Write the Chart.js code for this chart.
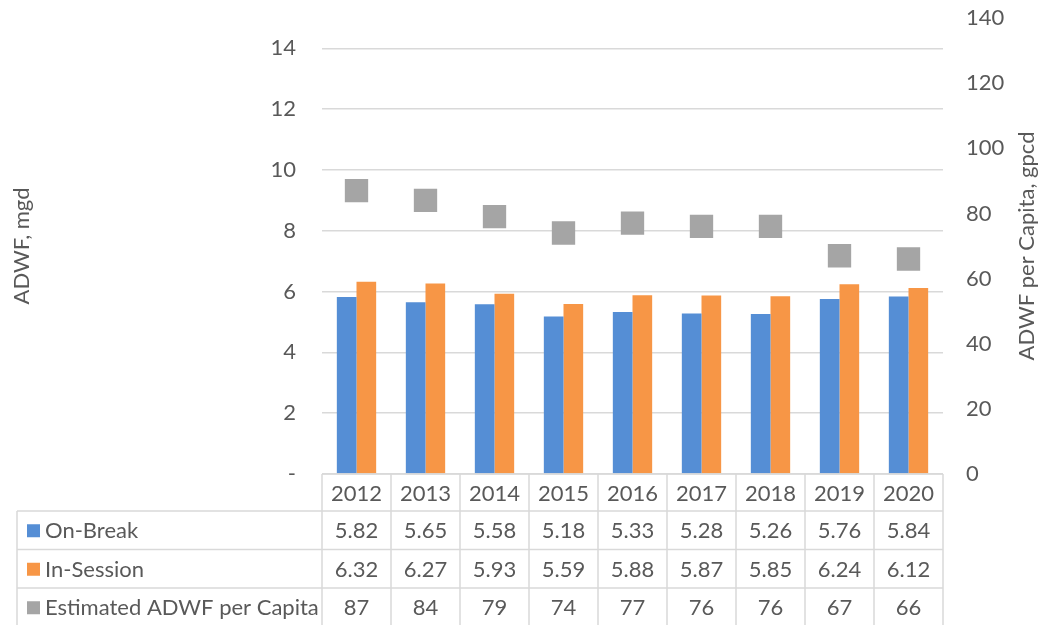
<!DOCTYPE html>
<html><head><meta charset="utf-8">
<script src="https://cdn.jsdelivr.net/npm/chart.js@4/dist/chart.umd.min.js"></script>
<style>html,body{margin:0;padding:0;background:#fff}</style>
</head><body>
<canvas id="c" width="1048" height="625"></canvas>
<script>
const categories = ['2012','2013','2014','2015','2016','2017','2018','2019','2020'];
const onBreak = [5.82,5.65,5.58,5.18,5.33,5.28,5.26,5.76,5.84];
const inSession = [6.32,6.27,5.93,5.59,5.88,5.87,5.85,6.24,6.12];
const perCapita = [87,84,79,74,77,76,76,67,66];
const leftTicks = [0,2,4,6,8,10,12,14];
const rightTicks = [0,20,40,60,80,100,120,140];
const seriesNames = ['On-Break','In-Session','Estimated ADWF per Capita'];
const rightTitle = 'ADWF per Capita, gpcd';

const FONT = 'Lato';
const FS = 22;
const TXT = '#595959';
const GRID = '#d9d9d9';
const colors = ['#558ED5','#F79646','#A5A5A5'];

const tablePlugin = {
  id: 'dataTable',
  afterDraw(chart) {
    const ctx = chart.ctx, x = chart.scales.x, ca = chart.chartArea;
    const n = categories.length;
    const w = (ca.right - ca.left) / n;
    const top = ca.bottom;
    const headerH = 37, rowH = 38.5;
    const legendLeft = 17;
    const rowsTop = top + headerH;
    const bottom = rowsTop + rowH * 3;
    const rowsData = [onBreak.map(v => v.toFixed(2)), inSession.map(v => v.toFixed(2)), perCapita.map(String)];
    ctx.save();
    ctx.strokeStyle = GRID;
    ctx.lineWidth = 1.5;
    ctx.beginPath();
    ctx.moveTo(ca.left, top); ctx.lineTo(ca.right, top);
    for (let r = 0; r <= 3; r++) {
      const y = rowsTop + r * rowH;
      ctx.moveTo(legendLeft, y); ctx.lineTo(ca.right, y);
    }
    ctx.moveTo(legendLeft, rowsTop); ctx.lineTo(legendLeft, bottom);
    for (let i = 0; i <= n; i++) {
      const cx = (i < n ? x.getPixelForValue(i) - w / 2 : x.getPixelForValue(n - 1) + w / 2);
      ctx.moveTo(cx, top); ctx.lineTo(cx, bottom);
    }
    ctx.stroke();
    ctx.fillStyle = TXT;
    ctx.font = FS + 'px ' + FONT;
    ctx.textAlign = 'center';
    ctx.textBaseline = 'middle';
    categories.forEach((c, i) => ctx.fillText(c, x.getPixelForValue(i), top + headerH / 2 + 1));
    rowsData.forEach((row, r) => {
      const cy = rowsTop + r * rowH + rowH / 2 + 1;
      row.forEach((v, i) => ctx.fillText(v, x.getPixelForValue(i), cy));
      ctx.fillStyle = colors[r];
      ctx.fillRect(27, cy - 7, 13, 13);
      ctx.fillStyle = TXT;
      ctx.textAlign = 'left';
      ctx.fillText(seriesNames[r], 45, cy);
      ctx.textAlign = 'center';
    });
    const y2 = chart.scales.y2;
    ctx.save();
    ctx.translate(1027, (y2.top + y2.bottom) / 2);
    ctx.rotate(-Math.PI / 2);
    ctx.textAlign = 'center';
    ctx.textBaseline = 'middle';
    ctx.fillText(rightTitle, 0, 0);
    ctx.restore();
    ctx.restore();
  }
};

function fixPad(s) { s.paddingTop = 0; s.paddingBottom = 0; }

new Chart(document.getElementById('c'), {
  data: {
    labels: categories,
    datasets: [
      { type: 'line', label: seriesNames[2], data: perCapita, yAxisID: 'y2', showLine: false,
        pointStyle: 'rect', pointRadius: 16.5, pointHoverRadius: 16.5, backgroundColor: colors[2],
        borderColor: colors[2], pointBorderWidth: 0, order: 0 },
      { type: 'bar', label: seriesNames[0], data: onBreak, yAxisID: 'y', backgroundColor: colors[0],
        categoryPercentage: 0.57, barPercentage: 1, order: 1 },
      { type: 'bar', label: seriesNames[1], data: inSession, yAxisID: 'y', backgroundColor: colors[1],
        categoryPercentage: 0.57, barPercentage: 1, order: 1 }
    ]
  },
  options: {
    responsive: false,
    animation: false,
    layout: { padding: { top: 18, bottom: 151, left: 0, right: 0 } },
    plugins: { legend: { display: false }, tooltip: { enabled: false } },
    scales: {
      x: { display: false, offset: true },
      y: {
        position: 'left', min: 0, max: 15,
        afterBuildTicks(s) { s.ticks = leftTicks.map(v => ({ value: v })); },
        afterFit(s) { s.width = 322; fixPad(s); },
        ticks: { color: TXT, font: { family: FONT, size: FS }, padding: 26,
          callback: v => v === 0 ? '-' : String(v) },
        grid: { color: GRID, lineWidth: 1.5, drawTicks: false },
        border: { display: false },
        title: { display: true, text: 'ADWF, mgd', color: TXT, font: { family: FONT, size: FS }, padding: { top: 9, bottom: 0 } }
      },
      y2: {
        position: 'right', min: 0, max: 140,
        afterBuildTicks(s) { s.ticks = rightTicks.map(v => ({ value: v })); },
        afterFit(s) { s.width = 105; fixPad(s); },
        ticks: { color: TXT, font: { family: FONT, size: FS }, padding: 23 },
        grid: { display: false, drawTicks: false },
        border: { display: false }
      }
    }
  },
  plugins: [tablePlugin]
});
</script>
</body></html>
